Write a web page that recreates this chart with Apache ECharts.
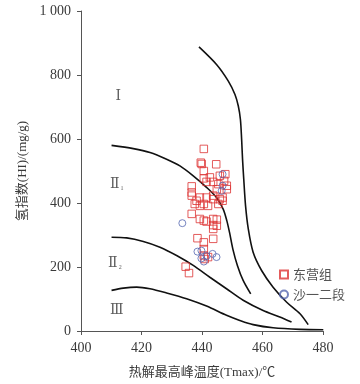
<!DOCTYPE html>
<html>
<head>
<meta charset="utf-8">
<script src="https://cdn.jsdelivr.net/npm/echarts@6/dist/echarts.min.js"></script>
<style>html,body{margin:0;padding:0;background:#fff;}#c{width:360px;height:384px;}</style>
</head>
<body>
<div id="c"></div>
<script>
var xTicks = [400, 420, 440, 460, 480];
var yTicks = [0, 200, 400, 600, 800, 1000];
var curveI = [[439.0,888],[444.8,833],[448.7,781],[450.9,739],[452.0,703],[452.7,661],[453.1,599],[453.4,537],[453.8,475],[454.4,391],[455.3,319],[456.9,246],[459.7,189],[463.5,137],[468.0,90],[472.4,54],[475.1,20]];
var curveII1 = [[410.1,580],[417.3,570],[422.8,558],[428.3,537],[432.7,516],[437.1,485],[441.5,449],[444.8,417],[447.0,381],[448.2,345],[449.1,308],[450.2,256],[451.7,205],[453.6,158],[456.1,116]];
var curveII2 = [[410.1,293],[415.1,291],[420.6,280],[426.1,262],[431.6,236],[437.1,205],[442.6,168],[448.1,132],[453.6,96],[460.2,64],[465.7,44],[469.6,28]];
var curveIII = [[410.1,127],[414.0,134],[418.4,137],[422.8,132],[428.3,119],[434.9,101],[441.5,78],[448.1,49],[452.5,33],[456.9,20],[463.5,10],[472.4,5],[480.1,4]];
var dongying = [[440.6,569],[439.6,526],[439.9,522],[444.7,521],[440.6,500],[440.6,477],[442.6,480],[445.9,485],[447.7,490],[436.6,452],[436.6,433],[436.6,423],[441.5,466],[443.7,466],[445.4,459],[447.3,469],[448.2,454],[448.2,443],[444.9,443],[443.7,412],[443.7,423],[441.5,417],[439.3,417],[438.2,407],[439.3,391],[437.6,397],[440.6,397],[442.0,391],[445.9,412],[446.8,407],[445.4,397],[446.8,417],[436.6,366],[439.3,350],[440.6,345],[441.5,342],[443.7,350],[444.9,348],[443.7,331],[444.9,329],[443.7,319],[438.5,290],[440.6,277],[443.7,288],[440.6,256],[434.6,201],[435.7,181],[440.6,236],[442.0,231],[440.9,225]];
var shayi = [[433.5,337],[438.5,248],[439.8,251],[439.8,227],[440.6,217],[441.5,234],[443.5,241],[444.8,231],[446.8,490],[446.8,454],[446.5,438]];
var zoneLabels = [['{r|Ⅰ}',412.3,734],['{r|Ⅱ}{s|1}',411.8,459],['{r|Ⅱ}{s|2}',411.2,212],['{r|Ⅲ}',411.8,64]];

var chart = echarts.init(document.getElementById('c'), null, {renderer:'canvas'});
var serif = "'Liberation Serif','Noto Sans CJK SC',serif";
var textColor = '#3a3a3a';
function lineSeries(d){
  return {type:'line', data:d, smooth:0.3, showSymbol:false, symbol:'none',
    lineStyle:{color:'#111', width:1.6}, silent:true, z:2};
}
chart.setOption({
  animation:false,
  backgroundColor:'#fff',
  grid:{left:81, right:37, top:11, bottom:52},
  legend:{
    orient:'vertical', left:274, top:263, itemWidth:8, itemHeight:8, itemGap:7,
    textStyle:{fontFamily:"'Noto Sans CJK SC',sans-serif", fontSize:13, color:'#555'},
    data:[{name:'东营组', icon:'rect'},{name:'沙一二段', icon:'circle'}]
  },
  xAxis:{
    type:'value', min:400, max:480, interval:20,
    name:'热解最高峰温度(Tmax)/℃', nameLocation:'middle', nameGap:35,
    nameTextStyle:{fontFamily:serif, fontSize:13, color:textColor},
    axisLine:{show:true, onZero:false, lineStyle:{color:'#555', width:1}},
    axisTick:{show:true, length:4, inside:false, lineStyle:{color:'#555'}},
    axisLabel:{margin:10, fontFamily:serif, fontSize:14, color:textColor,
      customValues: xTicks},
    splitLine:{show:false}
  },
  yAxis:{
    type:'value', min:0, max:1000, interval:200,
    name:'氢指数(HI)/(mg/g)', nameLocation:'middle', nameGap:42,
    nameTextStyle:{fontFamily:serif, fontSize:13, color:textColor},
    axisLine:{show:true, lineStyle:{color:'#555', width:1}},
    axisTick:{show:true, length:4, lineStyle:{color:'#555'}},
    axisLabel:{margin:10, fontFamily:serif, fontSize:14, color:textColor,
      customValues: yTicks,
      formatter:function(v){ return v>=1000 ? (Math.floor(v/1000)+' '+String(v%1000).padStart(3,'0')) : String(v); }},
    splitLine:{show:false}
  },
  series:[
    lineSeries(curveI), lineSeries(curveII1), lineSeries(curveII2), lineSeries(curveIII),
    {type:'scatter', name:'东营组', symbol:'rect', symbolSize:7.5, data:dongying, z:3,
      itemStyle:{color:'rgba(0,0,0,0)', borderColor:'#dd3333', borderWidth:1}},
    {type:'scatter', name:'沙一二段', symbol:'circle', symbolSize:7, data:shayi, z:4,
      itemStyle:{color:'rgba(0,0,0,0)', borderColor:'#5566b0', borderWidth:1}},
    {type:'scatter', symbolSize:0, silent:true, z:5,
      data: zoneLabels.map(function(z){ return {value:[z[1],z[2]], name:z[0]}; }),
      label:{show:true, position:'inside', formatter:function(p){return p.name;},
        rich:{r:{fontFamily:"'DejaVu Serif','Liberation Serif',serif", fontSize:14, color:'#333'},
              s:{fontFamily:"'Liberation Serif',serif", fontSize:6, color:'#333', padding:[8,0,0,1]}}}}
  ]
});
</script>
</body>
</html>
